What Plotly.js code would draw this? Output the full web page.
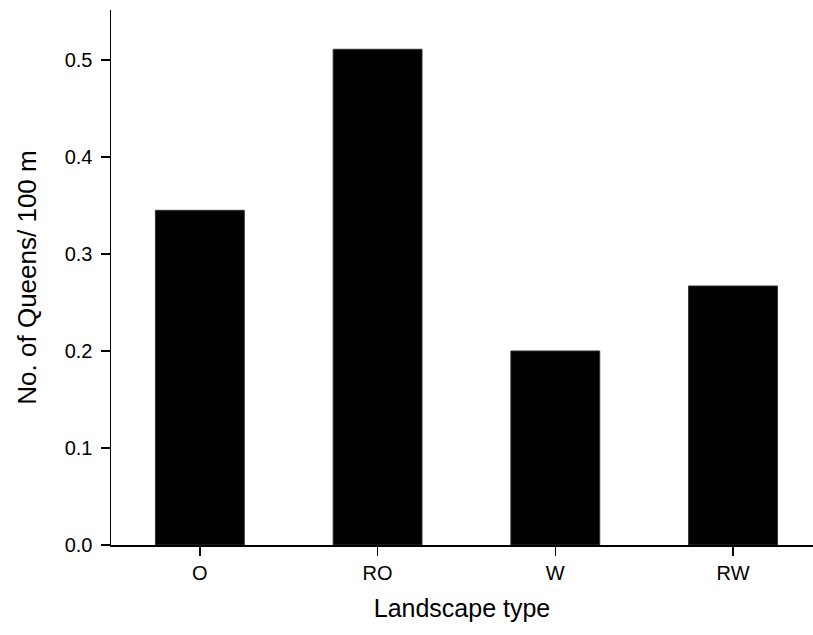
<!DOCTYPE html>
<html>
<head>
<meta charset="utf-8">
<script src="https://cdn.plot.ly/plotly-3.0.1.min.js"></script>
<style>
  html, body { margin: 0; padding: 0; background: #fff; }
  #chart { width: 813px; height: 635px; }
</style>
</head>
<body>
<div id="chart"></div>
<script>
// Landscape types and queen density per 100 m
const landscapes = ["O", "RO", "W", "RW"];
const queensPer100m = [0.345, 0.511, 0.2, 0.267];
const yTickValues = [0.0, 0.1, 0.2, 0.3, 0.4, 0.5];
const yTickLabels = ["0.0", "0.1", "0.2", "0.3", "0.4", "0.5"];

const fontFamily = "Liberation Sans, Arial, Helvetica, sans-serif";

const trace = {
  type: "bar",
  x: [0, 1, 2, 3],
  y: queensPer100m,
  width: 0.5,
  marker: { color: "#000000", line: { color: "#333333", width: 1 } },
  hoverinfo: "x+y"
};

const layout = {
  width: 813,
  height: 635,
  margin: { l: 111, r: 0, t: 10, b: 90 },
  paper_bgcolor: "#ffffff",
  plot_bgcolor: "#ffffff",
  showlegend: false,
  font: { family: fontFamily, color: "#000000" },
  xaxis: {
    range: [-0.5, 3.45],
    tickmode: "array",
    tickvals: [0, 1, 2, 3],
    ticktext: landscapes,
    showgrid: false,
    zeroline: false,
    showline: true,
    linecolor: "#000000",
    linewidth: 1.5,
    ticks: "outside",
    ticklen: 9,
    tickwidth: 1.5,
    tickcolor: "#000000",
    tickfont: { size: 20, family: fontFamily },
    title: { text: "Landscape type", font: { size: 25, family: fontFamily }, standoff: 17 }
  },
  yaxis: {
    range: [0, 0.5515],
    tickmode: "array",
    tickvals: yTickValues,
    ticktext: yTickLabels,
    showgrid: false,
    zeroline: false,
    showline: true,
    linecolor: "#000000",
    linewidth: 1.5,
    ticks: "outside",
    ticklen: 9,
    tickwidth: 1.5,
    tickcolor: "#000000",
    ticklabelstandoff: 4,
    tickfont: { size: 20, family: fontFamily },
    title: { text: "No. of Queens/ 100 m", font: { size: 26, family: fontFamily }, standoff: 20 }
  }
};

Plotly.newPlot("chart", [trace], layout, { staticPlot: true, displayModeBar: false });
</script>
</body>
</html>
